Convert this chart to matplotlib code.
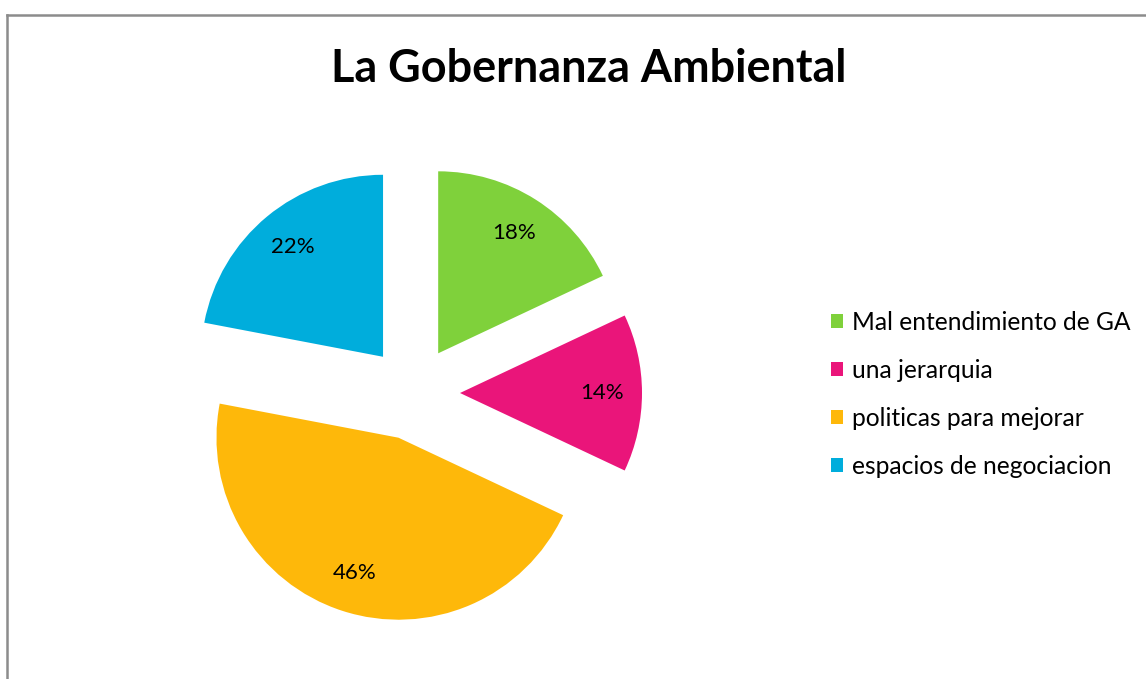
import matplotlib
matplotlib.use("Agg")
import matplotlib.pyplot as plt
from matplotlib.lines import Line2D

categories = ["Mal entendimiento de GA", "una jerarquia", "politicas para mejorar", "espacios de negociacion"]
values = [18, 14, 46, 22]
colors = ["#7FD13B", "#EA157A", "#FEB80A", "#00ADDC"]
title = "La Gobernanza Ambiental"

W, H = 1146, 679
fig = plt.figure(figsize=(W / 100, H / 100), dpi=100)
ax = fig.add_axes([0, 0, 1, 1])

radius = 182
wedges, texts, autotexts = ax.pie(
    values, colors=colors, startangle=90, counterclock=False,
    center=(413, H - 393), radius=radius, explode=[47] * len(values),
    autopct="%1.0f%%", pctdistance=0.78, frame=True,
    textprops=dict(fontsize=16, family=["Lato", "DejaVu Sans"], color="black"),
    wedgeprops=dict(linewidth=0),
)
ax.set_xlim(0, W)
ax.set_ylim(0, H)
ax.set_aspect("equal")
ax.axis("off")

fig.text(589 / W, 1 - 69 / H, title, ha="center", va="center", fontsize=32.4,
         fontweight="bold", family=["Lato", "DejaVu Sans"])

leg = fig.legend(wedges, categories, loc="upper left", bbox_to_anchor=(821 / W, 1 - 301 / H),
                 frameon=False, prop=dict(family=["Lato", "DejaVu Sans"], size=17.7),
                 handlelength=0.5, handleheight=0.5, handletextpad=0.35, labelspacing=1.02,
                 borderaxespad=0)

# chart border (top and left edges visible)
fig.add_artist(Line2D([7 / W, 1], [1 - 15 / H, 1 - 15 / H], color="#8c8c8c", lw=1.8,
                      transform=fig.transFigure))
fig.add_artist(Line2D([7 / W, 7 / W], [0, 1 - 15 / H], color="#8c8c8c", lw=1.8,
                      transform=fig.transFigure))

fig.savefig("out.png", dpi=100, facecolor="white")
